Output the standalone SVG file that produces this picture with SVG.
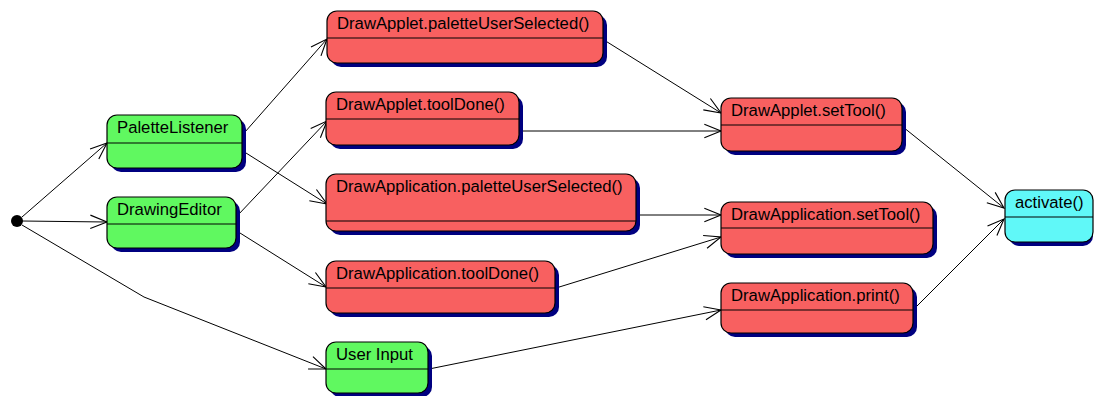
<svg xmlns="http://www.w3.org/2000/svg" width="1095" height="396" viewBox="0 0 1095 396">
<style>
.sh{fill:#000080;}
.bx{stroke:#000;stroke-width:1.2;}
.g{fill:#60f860;}
.r{fill:#f86060;}
.c{fill:#60f8f8;}
.dv{stroke:#000;stroke-width:1.2;}
text{font-family:"Liberation Sans",Arial,sans-serif;font-size:16.7px;fill:#000;}
.cn{fill:none;stroke:#000;stroke-width:1;marker-end:url(#ah);}
</style>
<defs>
<marker id="ah" markerUnits="userSpaceOnUse" markerWidth="20" markerHeight="20" viewBox="-16 -8 18 16" refX="0" refY="0" orient="auto">
<path d="M-15,-6 L0,0 L-15,6" fill="none" stroke="#000" stroke-width="1"/>
</marker>
</defs>
<rect width="1095" height="396" fill="#fff"/>
<g id="connectors">
<path class="cn" d="M22,217 L107,143"/>
<path class="cn" d="M22,221 L107,222"/>
<path class="cn" d="M22,225 L144,297 L326,369"/>
<path class="cn" d="M245,132 L327,39"/>
<path class="cn" d="M246,153 L327,204"/>
<path class="cn" d="M238,215 L327,121"/>
<path class="cn" d="M240,233 L326,287"/>
<path class="cn" d="M604,40 L721,113"/>
<path class="cn" d="M519,131 L721,131"/>
<path class="cn" d="M637,215 L721,215"/>
<path class="cn" d="M556,288 L721,237"/>
<path class="cn" d="M429,369 L721,310"/>
<path class="cn" d="M903,127 L1004,208"/>
<path class="cn" d="M915,308 L1004,219"/>
</g>
<g id="start"><circle cx="17" cy="221" r="6" fill="#000"/></g>
<g id="PaletteListener">
<rect class="sh" x="111" y="119" width="135" height="53" rx="10"/>
<rect class="bx g" x="107" y="115" width="135" height="53" rx="10"/>
<line class="dv" x1="107" y1="143" x2="242" y2="143"/>
<text x="117" y="133">PaletteListener</text>
</g>
<g id="DrawingEditor">
<rect class="sh" x="111" y="201" width="129" height="51" rx="10"/>
<rect class="bx g" x="107" y="197" width="129" height="51" rx="10"/>
<line class="dv" x1="107" y1="224" x2="236" y2="224"/>
<text x="117" y="215">DrawingEditor</text>
</g>
<g id="UserInput">
<rect class="sh" x="330" y="346" width="102" height="51" rx="10"/>
<rect class="bx g" x="326" y="342" width="102" height="51" rx="10"/>
<line class="dv" x1="326" y1="369" x2="428" y2="369"/>
<text x="336" y="360">User Input</text>
</g>
<g id="DrawAppletPaletteUserSelected">
<rect class="sh" x="331" y="15" width="276" height="52" rx="10"/>
<rect class="bx r" x="327" y="11" width="276" height="52" rx="10"/>
<line class="dv" x1="327" y1="38" x2="603" y2="38"/>
<text x="337" y="29">DrawApplet.paletteUserSelected()</text>
</g>
<g id="DrawAppletToolDone">
<rect class="sh" x="330" y="96" width="193" height="53" rx="10"/>
<rect class="bx r" x="326" y="92" width="193" height="53" rx="10"/>
<line class="dv" x1="326" y1="119" x2="519" y2="119"/>
<text x="336" y="110">DrawApplet.toolDone()</text>
</g>
<g id="DrawApplicationPaletteUserSelected">
<rect class="sh" x="330" y="178" width="310" height="57" rx="10"/>
<rect class="bx r" x="326" y="174" width="310" height="57" rx="10"/>
<line class="dv" x1="326" y1="221" x2="636" y2="221"/>
<text x="336" y="192">DrawApplication.paletteUserSelected()</text>
</g>
<g id="DrawApplicationToolDone">
<rect class="sh" x="330" y="265" width="229" height="52" rx="10"/>
<rect class="bx r" x="326" y="261" width="229" height="52" rx="10"/>
<line class="dv" x1="326" y1="288" x2="555" y2="288"/>
<text x="336" y="279">DrawApplication.toolDone()</text>
</g>
<g id="DrawAppletSetTool">
<rect class="sh" x="725" y="102" width="181" height="53" rx="10"/>
<rect class="bx r" x="721" y="98" width="181" height="53" rx="10"/>
<line class="dv" x1="721" y1="125" x2="902" y2="125"/>
<text x="731" y="116">DrawApplet.setTool()</text>
</g>
<g id="DrawApplicationSetTool">
<rect class="sh" x="725" y="206" width="212" height="52" rx="10"/>
<rect class="bx r" x="721" y="202" width="212" height="52" rx="10"/>
<line class="dv" x1="721" y1="228" x2="933" y2="228"/>
<text x="731" y="220">DrawApplication.setTool()</text>
</g>
<g id="DrawApplicationPrint">
<rect class="sh" x="725" y="287" width="192" height="50" rx="10"/>
<rect class="bx r" x="721" y="283" width="192" height="50" rx="10"/>
<line class="dv" x1="721" y1="310" x2="913" y2="310"/>
<text x="731" y="301">DrawApplication.print()</text>
</g>
<g id="activate">
<rect class="sh" x="1009" y="194" width="84" height="52" rx="10"/>
<rect class="bx c" x="1005" y="190" width="88" height="52" rx="10"/>
<line class="dv" x1="1005" y1="217" x2="1093" y2="217"/>
<text x="1015" y="208">activate()</text>
</g>
</svg>
